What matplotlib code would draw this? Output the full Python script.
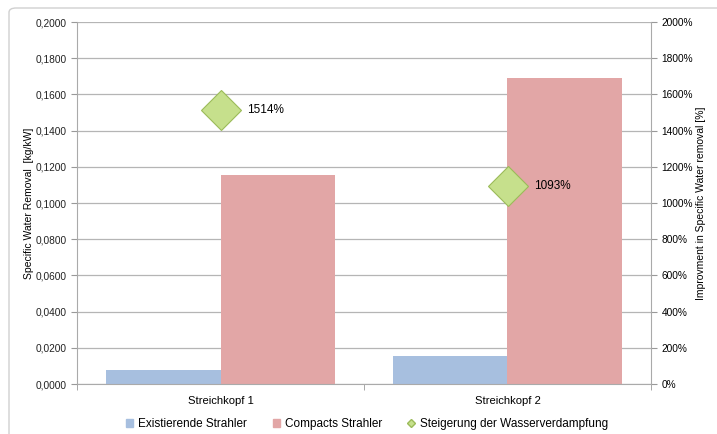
import numpy as np
import matplotlib.pyplot as plt
from matplotlib.patches import FancyBboxPatch
from matplotlib.lines import Line2D
from matplotlib.patches import Patch
from matplotlib.ticker import FuncFormatter

plt.rcParams['font.family'] = ['Liberation Sans', 'DejaVu Sans']

categories = ['Streichkopf 1', 'Streichkopf 2']
existierende = [0.0076, 0.0154]
compacts = [0.1157, 0.1688]
steigerung = [15.14, 10.93]
steigerung_labels = ['1514%', '1093%']

fig = plt.figure(figsize=(7.17, 4.34), dpi=100)
ax = fig.add_axes([77/717, 1 - 384/434, (651 - 77)/717, (384 - 22)/434])

x = np.arange(len(categories))
w = 0.4
ax.bar(x - w/2, existierende, w, color='#a7bfdf', zorder=2)
ax.bar(x + w/2, compacts, w, color='#e2a6a6', zorder=2)

ax.set_xlim(-0.5, 1.5)
ax.set_ylim(0, 0.2)
ax.set_yticks(np.arange(0, 0.2001, 0.02))
ax.yaxis.set_major_formatter(FuncFormatter(lambda v, p: f'{v:.4f}'.replace('.', ',')))
ax.set_xticks(x)
ax.set_xticklabels(categories, fontsize=8.1)
ax.set_xticks([-0.5, 0.5, 1.5], minor=True)
ax.tick_params(axis='x', which='major', length=0, pad=9)
ax.tick_params(axis='x', which='minor', length=4, color='#999999')
ax.tick_params(axis='y', labelsize=7.3, length=4, color='#999999', colors='#222222')
ax.grid(axis='y', color='#b5b5b5', linewidth=0.9, zorder=0)
for s in ['top', 'right']:
    ax.spines[s].set_visible(False)
for s in ['left', 'bottom']:
    ax.spines[s].set_color('#aaaaaa')
ax.set_ylabel('Specific Water Removal  [kg/kW]', fontsize=7.5)
ax.yaxis.set_label_coords(-0.075, 0.5)

ax2 = ax.twinx()
ax2.set_ylim(0, 20)
ax2.set_yticks(np.arange(0, 20.01, 2))
ax2.yaxis.set_major_formatter(FuncFormatter(lambda v, p: f'{v*100:.0f}%'))
ax2.tick_params(axis='y', labelsize=7.3, length=4, color='#999999')
for s in ['top', 'left', 'bottom']:
    ax2.spines[s].set_visible(False)
ax2.spines['right'].set_color('#aaaaaa')
ax2.set_ylabel('Improvment in Specific Water removal [%]', fontsize=7.5)
ax2.yaxis.set_label_coords(1.078, 0.5)
ax2.plot(x, steigerung, linestyle='none', marker='D', markersize=20,
         markerfacecolor='#c6e08c', markeredgecolor='#9bbb59', markeredgewidth=0.8, zorder=5)
for xi, yi, lab in zip(x, steigerung, steigerung_labels):
    ax2.annotate(lab, (xi, yi), xytext=(19, 0), textcoords='offset points',
                 va='center', ha='left', fontsize=8.5)

handles = [Patch(color='#a7bfdf'), Patch(color='#e2a6a6'),
           Line2D([], [], linestyle='none', marker='D', markersize=4.5,
                  markerfacecolor='#c6e08c', markeredgecolor='#9bbb59')]
fig.legend(handles, ['Existierende Strahler', 'Compacts Strahler', 'Steigerung der Wasserverdampfung'],
           loc='center', bbox_to_anchor=(367/717, 1 - 424/434), ncol=3, frameon=False,
           fontsize=8.5, handlelength=0.6, handleheight=0.6, handletextpad=0.4, columnspacing=2.2)

fig.patches.append(FancyBboxPatch((9/717, -0.05), 1.1, 1.05 - 8/434, boxstyle='round,pad=0,rounding_size=0.01',
                                  transform=fig.transFigure, fill=False, edgecolor='#d0d0d0', linewidth=1))

fig.savefig('out.png', dpi=100)
